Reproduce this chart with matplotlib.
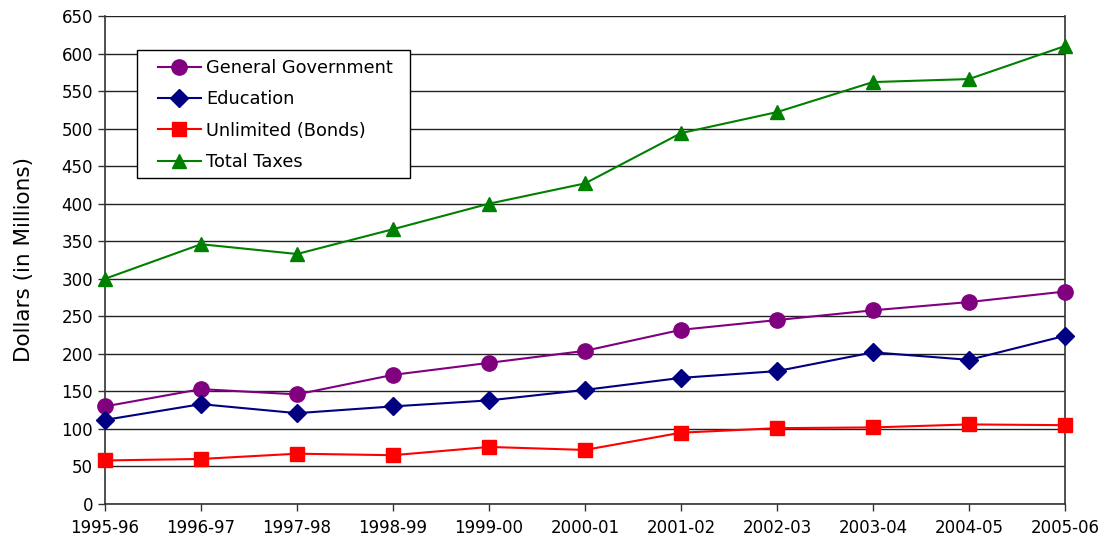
import matplotlib
matplotlib.use('Agg')
import matplotlib.pyplot as plt
from matplotlib.patches import Rectangle

years = ['1995-96', '1996-97', '1997-98', '1998-99', '1999-00', '2000-01',
         '2001-02', '2002-03', '2003-04', '2004-05', '2005-06']
general_gov = [130, 153, 146, 172, 188, 204, 232, 245, 258, 269, 283]
education = [112, 133, 121, 130, 138, 152, 168, 177, 202, 192, 224]
unlimited = [58, 60, 67, 65, 76, 72, 95, 101, 102, 106, 105]
total_taxes = [300, 346, 333, 366, 400, 427, 494, 522, 562, 566, 610]

plt.rcParams['font.family'] = ['DejaVu Sans']

fig = plt.figure(figsize=(11.08, 5.44), dpi=100)
ax = fig.add_axes([105/1108, 1-504/544, 960/1108, 488/544])

x = list(range(len(years)))
ax.plot(x, general_gov, color='#800080', marker='o', markersize=11, lw=1.5,
        label='General Government', clip_on=False, zorder=3)
ax.plot(x, education, color='#000080', marker='D', markersize=9, lw=1.5,
        label='Education', clip_on=False, zorder=3)
ax.plot(x, unlimited, color='#FF0000', marker='s', markersize=9.5, lw=1.5,
        label='Unlimited (Bonds)', clip_on=False, zorder=3)
ax.plot(x, total_taxes, color='#008000', marker='^', markersize=10, lw=1.5,
        label='Total Taxes', clip_on=False, zorder=3)

ax.set_xlim(0, len(years) - 1)
ax.set_ylim(0, 650)
ax.set_yticks(range(0, 651, 50))
ax.set_xticks(x)
ax.set_xticklabels(years)
ax.yaxis.grid(True, color='#222222', lw=1)
ax.set_axisbelow(True)
ax.tick_params(axis='both', labelsize=12, length=5, width=1, color='#333333')
ax.tick_params(axis='x', pad=6)
for side in ['left', 'bottom', 'right']:
    ax.spines[side].set_color('#333333')
    ax.spines[side].set_linewidth(1.2)
ax.spines['top'].set_visible(False)
ax.set_ylabel('Dollars (in Millions)', fontsize=15.5, labelpad=20)

# legend box drawn separately so the side padding can differ from the top
box = Rectangle((32/960, 326/488), 273/960, 128/488, transform=ax.transAxes,
                facecolor='white', edgecolor='black', lw=1, zorder=4)
ax.add_patch(box)
leg = ax.legend(loc='upper left', bbox_to_anchor=(53/960, 445/488),
                borderaxespad=0, borderpad=0, frameon=False,
                fontsize=12.8, handlelength=2.4, handletextpad=0.3,
                labelspacing=0.75)
leg.set_zorder(5)

fig.savefig('out.png', dpi=100)
